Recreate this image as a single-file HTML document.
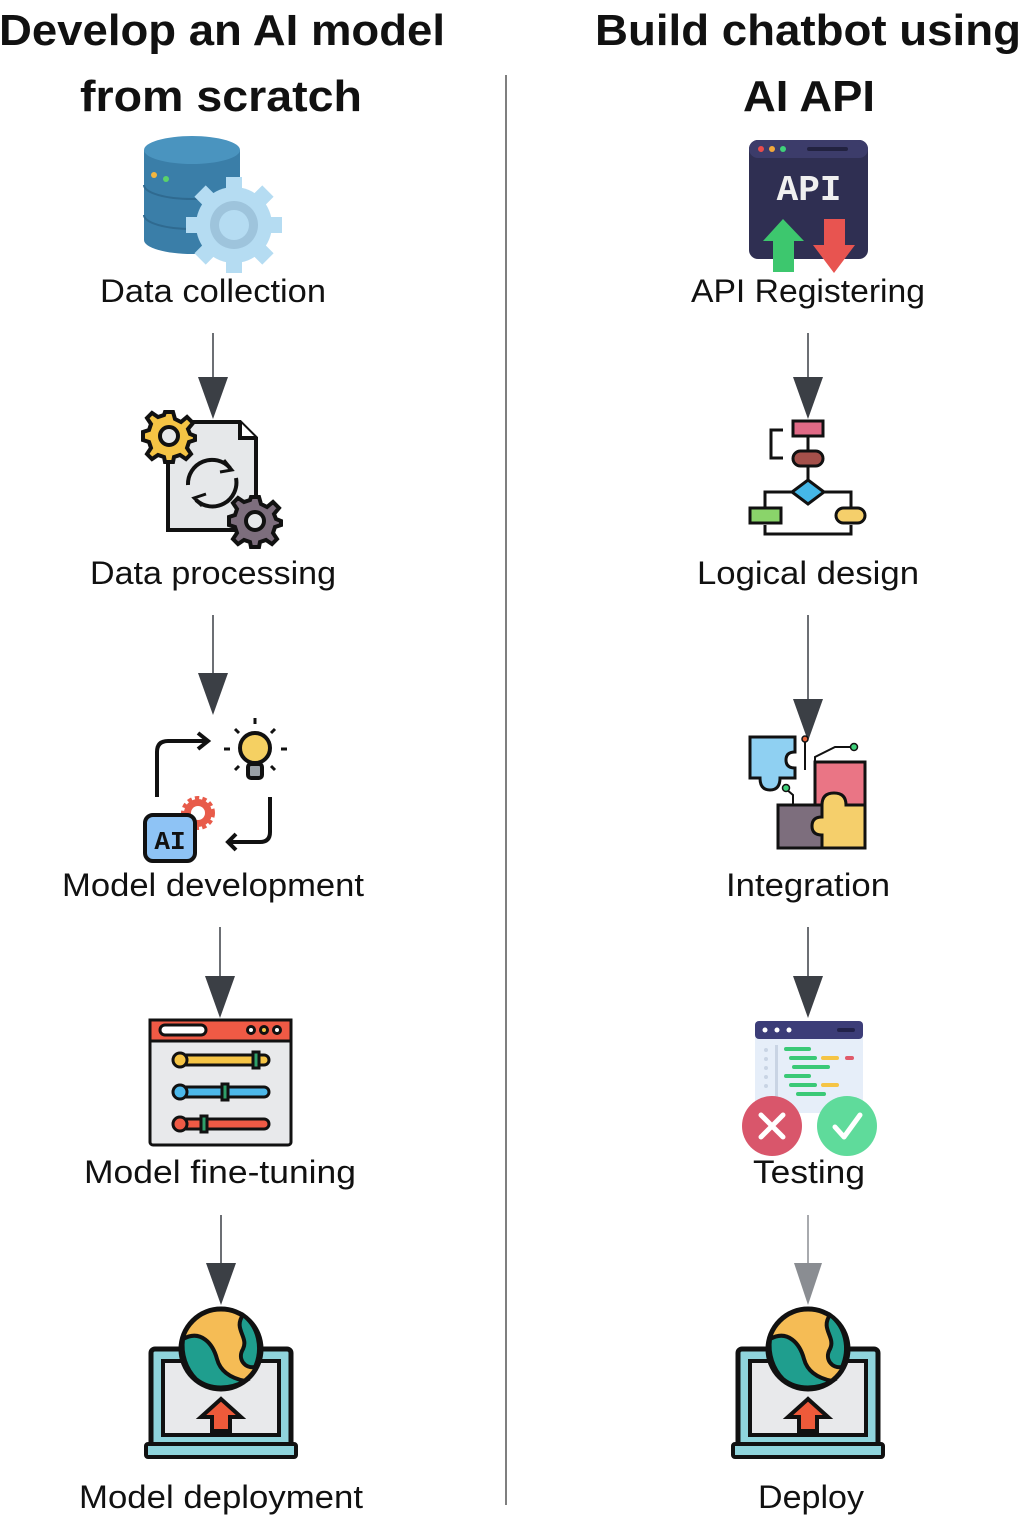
<!DOCTYPE html>
<html><head><meta charset="utf-8"><style>
html,body{margin:0;padding:0;background:#fff;}
svg{display:block;}
text{font-family:"Liberation Sans",sans-serif;fill:#111;}
.t{font-weight:bold;font-size:44px;}
.l{font-size:32px;}
</style></head><body>
<svg width="1024" height="1536" viewBox="0 0 1024 1536" xmlns="http://www.w3.org/2000/svg">
<defs>
<g id="deploy">
  <rect x="-70" y="0" width="140" height="97" rx="4" fill="#8fd4dc" stroke="#111" stroke-width="5"/>
  <rect x="-58" y="12" width="116" height="74" fill="#e8e9eb" stroke="#111" stroke-width="4"/>
  <rect x="-75" y="95" width="150" height="13" rx="2" fill="#8fd4dc" stroke="#111" stroke-width="4"/>
  <circle cx="0" cy="0" r="40" fill="#f5bc55" stroke="#111" stroke-width="5"/>
  <path d="M-38,-10 C-20,-20 -8,-5 -4,10 C0,25 14,30 24,32 C10,40 -10,42 -25,30 C-35,20 -40,5 -38,-10Z" fill="#1f9e8e" stroke="#111" stroke-width="4"/>
  <path d="M22,-34 C12,-20 28,-12 22,0 C16,10 24,20 34,18 C42,0 38,-22 22,-34Z" fill="#1f9e8e" stroke="#111" stroke-width="4"/>
  <path d="M0,50 L20,68 L9,68 L9,82 L-9,82 L-9,68 L-20,68Z" fill="#ee5a3a" stroke="#111" stroke-width="4"/>
</g>
</defs>

<text class="t" x="222" y="45" text-anchor="middle" textLength="446" lengthAdjust="spacingAndGlyphs">Develop an AI model</text>
<text class="t" x="221" y="111" text-anchor="middle" textLength="282" lengthAdjust="spacingAndGlyphs">from scratch</text>
<text class="t" x="808" y="45" text-anchor="middle" textLength="426" lengthAdjust="spacingAndGlyphs">Build chatbot using</text>
<text class="t" x="809" y="111" text-anchor="middle" textLength="132" lengthAdjust="spacingAndGlyphs">AI API</text>

<line x1="506" y1="75" x2="506" y2="1505" stroke="#555" stroke-width="1.5"/>

<text class="l" x="213" y="302" text-anchor="middle" textLength="226" lengthAdjust="spacingAndGlyphs">Data collection</text>
<text class="l" x="213" y="584" text-anchor="middle" textLength="246" lengthAdjust="spacingAndGlyphs">Data processing</text>
<text class="l" x="213" y="896" text-anchor="middle" textLength="302" lengthAdjust="spacingAndGlyphs">Model development</text>
<text class="l" x="220" y="1183" text-anchor="middle" textLength="272" lengthAdjust="spacingAndGlyphs">Model fine-tuning</text>
<text class="l" x="221" y="1508" text-anchor="middle" textLength="284" lengthAdjust="spacingAndGlyphs">Model deployment</text>
<text class="l" x="808" y="302" text-anchor="middle" textLength="234" lengthAdjust="spacingAndGlyphs">API Registering</text>
<text class="l" x="808" y="584" text-anchor="middle" textLength="222" lengthAdjust="spacingAndGlyphs">Logical design</text>
<text class="l" x="808" y="896" text-anchor="middle" textLength="164" lengthAdjust="spacingAndGlyphs">Integration</text>
<text class="l" x="809" y="1183" text-anchor="middle" textLength="112" lengthAdjust="spacingAndGlyphs">Testing</text>
<text class="l" x="811" y="1508" text-anchor="middle" textLength="106" lengthAdjust="spacingAndGlyphs">Deploy</text>

<g stroke="#3b3f45" stroke-width="1.5" fill="#3b3f45">
<line x1="213" y1="333" x2="213" y2="378"/><path d="M198,377 L228,377 L213,419Z" stroke="none"/>
<line x1="213" y1="615" x2="213" y2="674"/><path d="M198,673 L228,673 L213,715Z" stroke="none"/>
<line x1="220" y1="927" x2="220" y2="977"/><path d="M205,976 L235,976 L220,1018Z" stroke="none"/>
<line x1="221" y1="1215" x2="221" y2="1264"/><path d="M206,1263 L236,1263 L221,1305Z" stroke="none"/>
<line x1="808" y1="333" x2="808" y2="378"/><path d="M793,377 L823,377 L808,419Z" stroke="none"/>
<line x1="808" y1="615" x2="808" y2="700"/><path d="M793,699 L823,699 L808,741Z" stroke="none"/>
<line x1="808" y1="927" x2="808" y2="977"/><path d="M793,976 L823,976 L808,1018Z" stroke="none"/>
</g>
<g stroke="#8a8d92" stroke-width="1.5" fill="#8a8d92">
<line x1="808" y1="1215" x2="808" y2="1264"/><path d="M794,1263 L822,1263 L808,1305Z" stroke="none"/>
</g>

<g>
  <path d="M144,150 L144,240 A48,14 0 0 0 240,240 L240,150Z" fill="#3a7ea8"/>
  <ellipse cx="192" cy="150" rx="48" ry="14" fill="#4a94bf"/>
  <path d="M144,185 A48,14 0 0 0 240,185" fill="none" stroke="#2f6a90" stroke-width="2"/>
  <path d="M144,215 A48,14 0 0 0 240,215" fill="none" stroke="#2f6a90" stroke-width="2"/>
  <circle cx="154" cy="175" r="3" fill="#f3b63f"/><circle cx="166" cy="179" r="3" fill="#5ad26a"/>
  <g transform="translate(234,225)" fill="#b5dcf2">
    <circle r="38"/>
    <g><rect x="-8" y="-48" width="16" height="96"/><rect x="-48" y="-8" width="96" height="16"/>
    <rect x="-8" y="-48" width="16" height="96" transform="rotate(45)"/><rect x="-8" y="-48" width="16" height="96" transform="rotate(-45)"/></g>
    <circle r="24" fill="#9ec4dc"/><circle r="15" fill="#b5dcf2"/>
  </g>
</g>

<g stroke="#111" stroke-width="4">
  <path d="M168,422 L240,422 L256,438 L256,530 L168,530Z" fill="#e6e8ea"/>
  <path d="M240,422 L240,438 L256,438" fill="#fff"/>
  <path d="M188,485 A24,24 0 0 1 230,468" fill="none"/>
  <path d="M236,478 A24,24 0 0 1 196,500" fill="none"/>
  <path d="M224,460 L232,470 L220,472" fill="none" stroke-width="3"/>
  <path d="M202,506 L194,498 L206,494" fill="none" stroke-width="3"/>
  <g transform="translate(169,436)" fill="#f5c445">
    <path d="M-4,-24 L4,-24 L6,-17 L12,-14 L18,-19 L24,-13 L19,-7 L21,-2 L26,0 L26,4 L20,6 L18,12 L22,18 L17,23 L11,19 L5,21 L4,26 L-4,26 L-5,21 L-11,19 L-17,23 L-22,18 L-18,12 L-20,6 L-26,4 L-26,-4 L-20,-6 L-18,-12 L-22,-18 L-17,-23 L-11,-19 L-5,-21Z"/>
    <circle r="9" fill="#e6e8ea"/>
  </g>
  <g transform="translate(255,521)" fill="#7d6e7d">
    <path d="M-4,-24 L4,-24 L6,-17 L12,-14 L18,-19 L24,-13 L19,-7 L21,-2 L26,0 L26,4 L20,6 L18,12 L22,18 L17,23 L11,19 L5,21 L4,26 L-4,26 L-5,21 L-11,19 L-17,23 L-22,18 L-18,12 L-20,6 L-26,4 L-26,-4 L-20,-6 L-18,-12 L-22,-18 L-17,-23 L-11,-19 L-5,-21Z"/>
    <circle r="9" fill="#e6e8ea"/>
  </g>
</g>

<g stroke="#111" stroke-width="4" fill="none">
  <path d="M157,797 L157,752 Q157,741 168,741 L208,741"/>
  <path d="M198,733 L208,741 L198,749"/>
  <path d="M270,797 L270,832 Q270,842 260,842 L228,842"/>
  <path d="M236,834 L228,842 L236,850"/>
  <g stroke-width="3"><line x1="255" y1="718" x2="255" y2="724"/><line x1="224" y1="749" x2="230" y2="749"/><line x1="281" y1="749" x2="287" y2="749"/>
  <line x1="235" y1="729" x2="239" y2="733"/><line x1="275" y1="729" x2="271" y2="733"/><line x1="235" y1="770" x2="239" y2="766"/><line x1="275" y1="770" x2="271" y2="766"/></g>
  <circle cx="255" cy="748" r="15" fill="#f5d062"/>
  <rect x="248" y="764" width="14" height="14" rx="3" fill="#9aa0a6"/>
  <circle cx="198" cy="813" r="14" fill="#e85b4a" stroke="#e85b4a" stroke-width="6" stroke-dasharray="4 3"/>
  <circle cx="198" cy="813" r="7" fill="#fff" stroke="none"/>
  <rect x="145" y="815" width="50" height="46" rx="8" fill="#8ec3f5"/>
</g>
<text x="170" y="849" text-anchor="middle" style="font-family:'Liberation Mono',monospace;font-weight:bold;font-size:26px;fill:#111">AI</text>

<g stroke="#111" stroke-width="3">
  <rect x="150" y="1020" width="141" height="125" rx="3" fill="#e8e9eb"/>
  <rect x="150" y="1020" width="141" height="21" fill="#ef5a45"/>
  <rect x="160" y="1025" width="46" height="10" rx="5" fill="#fff"/>
  <circle cx="251" cy="1030" r="3.5" fill="#fff"/><circle cx="264" cy="1030" r="3.5" fill="#f5c445"/><circle cx="277" cy="1030" r="3.5" fill="#fff"/>
  <rect x="175" y="1055" width="94" height="10" rx="5" fill="#f5c445"/><circle cx="180" cy="1060" r="7" fill="#f5c445"/><rect x="253" y="1052" width="6" height="16" fill="#2fa06a"/>
  <rect x="175" y="1087" width="94" height="10" rx="5" fill="#4cb8ea"/><circle cx="180" cy="1092" r="7" fill="#4cb8ea"/><rect x="222" y="1084" width="6" height="16" fill="#2fa06a"/>
  <rect x="175" y="1119" width="94" height="10" rx="5" fill="#ef5a45"/><circle cx="180" cy="1124" r="7" fill="#ef5a45"/><rect x="201" y="1116" width="6" height="16" fill="#2fa06a"/>
</g>

<use href="#deploy" x="221" y="1349"/>
<use href="#deploy" x="808" y="1349"/>

<g>
  <rect x="749" y="140" width="119" height="119" rx="9" fill="#2f2f52"/>
  <rect x="749" y="140" width="119" height="18" rx="9" fill="#3c3c6a"/>
  <circle cx="761" cy="149" r="3" fill="#e94c4c"/><circle cx="772" cy="149" r="3" fill="#f3a93b"/><circle cx="783" cy="149" r="3" fill="#3fd17a"/>
  <rect x="807" y="147" width="41" height="4" rx="2" fill="#222240"/>
  <text x="809" y="200" text-anchor="middle" style="font-family:'Liberation Mono',monospace;font-weight:bold;font-size:36px;fill:#f0f0f0">API</text>
  <path d="M783,219 L804,241 L794,241 L794,272 L773,272 L773,241 L763,241Z" fill="#3dc76e"/>
  <path d="M824,219 L845,219 L845,245 L855,245 L834,273 L813,245 L824,245Z" fill="#e85450"/>
</g>

<g stroke="#111" stroke-width="3">
  <path d="M783,430 L771,430 L771,458 L783,458" fill="none"/>
  <line x1="808" y1="436" x2="808" y2="450"/><line x1="808" y1="466" x2="808" y2="480"/>
  <path d="M765,510 L765,492 L792,492 M824,492 L851,492 L851,510 M765,525 L765,534 L851,534 L851,525" fill="none"/>
  <rect x="793" y="421" width="30" height="15" fill="#e06a86"/>
  <rect x="793" y="451" width="30" height="15" rx="7.5" fill="#a4504a"/>
  <path d="M808,480 L824,492 L808,504 L792,492Z" fill="#45b8e8"/>
  <rect x="750" y="508" width="31" height="15" fill="#8ad46a"/>
  <rect x="836" y="508" width="29" height="15" rx="7.5" fill="#f5cf6b"/>
</g>

<g stroke="#111" stroke-width="3">
  <path d="M750,737 L795,737 L795,752 Q786,752 786,760 Q786,768 795,768 L795,778 L780,778 Q780,790 770,790 Q760,790 760,778 L750,778Z" fill="#8fd0f2"/>
  <path d="M815,762 L865,762 L865,805 L815,805 Z" fill="#ea7585"/>
  <path d="M778,805 L822,805 L822,848 L778,848Z" fill="#7d6e7d"/>
  <path d="M822,805 Q822,793 834,793 Q846,793 846,805 L865,805 L865,848 L822,848 L822,835 Q812,835 812,826 Q812,817 822,817Z" fill="#f5cf6b"/>
  <path d="M805,742 L805,770 M815,770 L815,757 L835,747 L852,747" fill="none" stroke-width="2"/>
  <path d="M786,789 L793,795 L793,805" fill="none" stroke-width="2"/>
  <circle cx="805" cy="739" r="3" fill="#e8653a" stroke-width="1.5"/>
  <circle cx="854" cy="747" r="3.5" fill="#3fd17a" stroke-width="1.5"/>
  <circle cx="786" cy="788" r="3.5" fill="#3fd17a" stroke-width="1.5"/>
</g>

<g>
  <rect x="755" y="1021" width="108" height="92" rx="4" fill="#e6eef9"/>
  <rect x="755" y="1021" width="108" height="18" rx="4" fill="#3c3d78"/>
  <circle cx="765" cy="1030" r="2.5" fill="#fff"/><circle cx="777" cy="1030" r="2.5" fill="#fff"/><circle cx="789" cy="1030" r="2.5" fill="#fff"/>
  <rect x="837" y="1028" width="18" height="4" rx="2" fill="#22224a"/>
  <rect x="775" y="1045" width="3" height="60" fill="#c9d4e4"/>
  <g fill="#c9d4e4"><circle cx="766" cy="1050" r="2"/><circle cx="766" cy="1059" r="2"/><circle cx="766" cy="1068" r="2"/><circle cx="766" cy="1077" r="2"/><circle cx="766" cy="1086" r="2"/></g>
  <g fill="#3ac977"><rect x="784" y="1047" width="27" height="4" rx="2"/><rect x="789" y="1056" width="28" height="4" rx="2"/><rect x="792" y="1065" width="38" height="4" rx="2"/><rect x="784" y="1074" width="27" height="4" rx="2"/><rect x="789" y="1083" width="28" height="4" rx="2"/><rect x="796" y="1092" width="30" height="4" rx="2"/></g>
  <rect x="821" y="1056" width="18" height="4" rx="2" fill="#f5c445"/><rect x="845" y="1056" width="9" height="4" rx="2" fill="#e05a6a"/>
  <rect x="821" y="1083" width="18" height="4" rx="2" fill="#f5c445"/>
  <circle cx="772" cy="1126" r="30" fill="#d9566b"/>
  <path d="M761,1115 L783,1137 M783,1115 L761,1137" stroke="#fff" stroke-width="5" stroke-linecap="round"/>
  <circle cx="847" cy="1126" r="30" fill="#5fdb9b"/>
  <path d="M835,1127 L844,1137 L860,1115" stroke="#fff" stroke-width="5" fill="none" stroke-linecap="round" stroke-linejoin="round"/>
</g>
</svg>
</body></html>
